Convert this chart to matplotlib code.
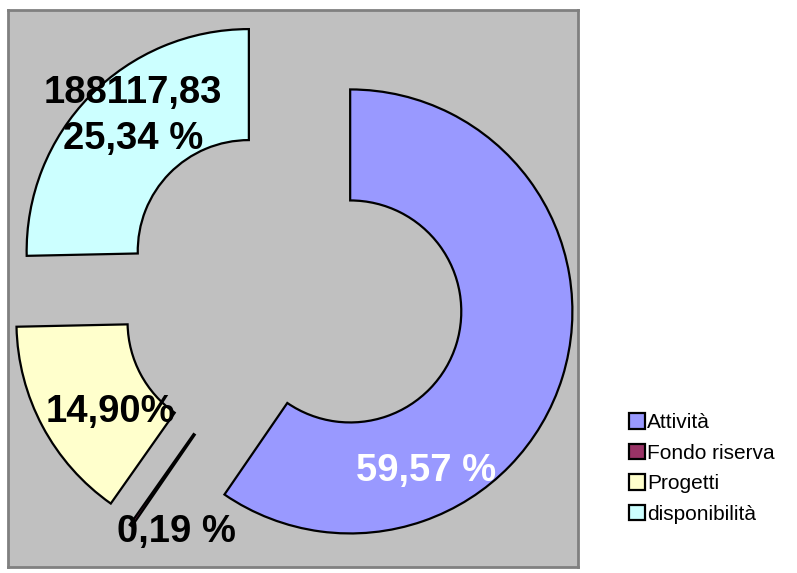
import matplotlib
matplotlib.use('Agg')
import matplotlib.pyplot as plt

plt.rcParams['font.family'] = ['Liberation Sans', 'DejaVu Sans']

# data
voci = ['Attività', 'Fondo riserva', 'Progetti', 'disponibilità']
percentuali = [59.57, 0.19, 14.90, 25.34]
etichette = ['59,57 %', '0,19 %', '14,90%', '188117,83\n25,34 %']
colori = ['#9999FF', '#993366', '#FFFFCC', '#CCFFFF']
colori_testo = ['white', 'black', 'black', 'black']
# label positions (data units, pie radius = 1)
pos_etichette = [(0.604, -0.800), (-0.523, -1.074), (-0.820, -0.535), (-0.716, 0.800)]

fig = plt.figure(figsize=(7.97, 5.73), dpi=100)
ax = fig.add_axes([8/797, 6/573, 570/797, 557/573])

wedges, _ = ax.pie(percentuali, colors=colori, startangle=90, counterclock=False,
                   explode=[0.273]*4, radius=1.0, frame=True,
                   wedgeprops=dict(width=0.5, edgecolor='black', linewidth=1.6))

ax.set_aspect('auto')
ax.set_xlim(-1.279, 1.286)
ax.set_ylim(-1.232, 1.277)
ax.set_xticks([])
ax.set_yticks([])
ax.set_facecolor('#C0C0C0')
for s in ax.spines.values():
    s.set_color('#808080')
    s.set_linewidth(2)

for (x, y), t, c in zip(pos_etichette, etichette, colori_testo):
    ax.text(x, y, t, ha='center', va='center', fontsize=27.5, fontweight='bold',
            color=c, linespacing=1.38)

fig.legend(wedges, voci, loc='upper left', bbox_to_anchor=(629/797, 1 - 413/573),
           frameon=False, fontsize=15, handlelength=0.78, handleheight=0.78,
           handletextpad=0.1, labelspacing=0.55, borderpad=0, borderaxespad=0)

fig.savefig('out.png', dpi=100)
